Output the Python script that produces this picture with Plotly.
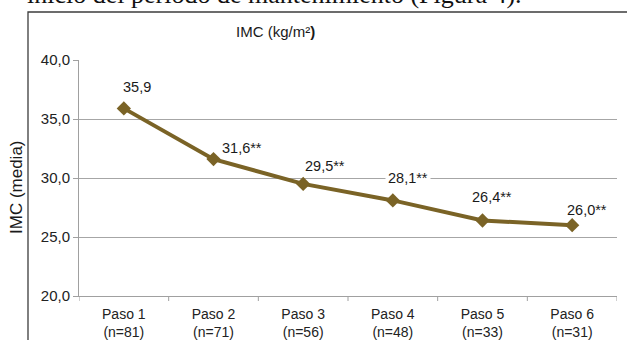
import plotly.graph_objects as go

categories = ["Paso 1<br>(n=81)", "Paso 2<br>(n=71)", "Paso 3<br>(n=56)",
              "Paso 4<br>(n=48)", "Paso 5<br>(n=33)", "Paso 6<br>(n=31)"]
imc_values = [35.9, 31.6, 29.5, 28.1, 26.4, 26.0]
value_labels = ["35,9", "31,6**", "29,5**", "28,1**", "26,4**", "26,0**"]
y_ticks = [20, 25, 30, 35, 40]
y_tick_labels = ["20,0", "25,0", "30,0", "35,0", "40,0"]

W, H = 627, 340
L, R, T, B = 79, 10, 60, 44
pw, ph = W - L - R, H - T - B

def px(x):
    return (x - L) / pw

def py(y):
    return (H - B - y) / ph

LINE = "#7a6326"
FONT = "Liberation Sans, Arial, sans-serif"

fig = go.Figure()
fig.add_trace(go.Scatter(
    x=list(range(len(categories))), y=imc_values, mode="lines+markers",
    line=dict(color=LINE, width=4),
    marker=dict(symbol="diamond", size=11, color=LINE),
    hoverinfo="skip", showlegend=False))

# data label offsets in pixels (dx right, dy down) relative to points
offsets = [(13, -21), (28, -11), (22, -18), (15, -22), (9, -23), (15, -15)]
for i, (lab, (dx, dy)) in enumerate(zip(value_labels, offsets)):
    fig.add_annotation(x=i, y=imc_values[i], text=lab, showarrow=False,
                       xshift=dx, yshift=-dy, xanchor="center", yanchor="middle",
                       font=dict(family=FONT, size=14.5, color="#1a1a1a"),
                       bgcolor="white" if i == 3 else "rgba(0,0,0,0)",
                       borderpad=2)

fig.add_annotation(xref="paper", yref="paper", x=px(275), y=py(31),
                   xanchor="center", yanchor="middle",
                   text="IMC (kg/m²<b>)</b>", showarrow=False,
                   font=dict(family=FONT, size=15, color="#1a1a1a"))
fig.add_annotation(xref="paper", yref="paper", x=px(16), y=py(187),
                   xanchor="center", yanchor="middle",
                   text="IMC (media)", textangle=-90, showarrow=False,
                   font=dict(family=FONT, size=17, color="#1a1a1a"))
fig.add_annotation(xref="paper", yref="paper", x=px(26), y=py(10),
                   xanchor="left", yanchor="bottom",
                   text="inicio del periodo de mantenimiento (Figura 4).",
                   showarrow=False, borderpad=0,
                   font=dict(family="Liberation Serif, Times New Roman, serif", size=26, color="#111"))

# outer border box
fig.add_shape(type="rect", xref="paper", yref="paper",
              x0=px(28), x1=px(640), y0=py(360), y1=py(12),
              line=dict(color="#3c3c3c", width=1.3), layer="below")

# category separator ticks on x axis
for k in range(len(categories) + 1):
    fig.add_shape(type="line", xref="x", yref="paper", x0=k - 0.5, x1=k - 0.5,
                  y0=0, y1=-5 / ph, line=dict(color="#a0a0a0", width=1))

fig.update_layout(
    width=W, height=H, margin=dict(l=L, r=R, t=T, b=B),
    paper_bgcolor="white", plot_bgcolor="white",
    xaxis=dict(range=[-0.5, 5.5], tickvals=list(range(len(categories))),
               ticktext=categories, showgrid=False, zeroline=False,
               showline=True, linecolor="#a0a0a0", linewidth=1,
               ticks="", ticklabelstandoff=5, automargin=False,
               tickfont=dict(family=FONT, size=14, color="#222")),
    yaxis=dict(range=[20, 40], tickvals=y_ticks, ticktext=y_tick_labels,
               showgrid=True, gridcolor="#a6a6a6", gridwidth=1,
               zeroline=False, showline=True, linecolor="#a0a0a0",
               ticks="outside", ticklen=5, tickcolor="#a0a0a0", automargin=False,
               tickfont=dict(family=FONT, size=15, color="#222")),
)

fig.write_html("out.html", config={"displayModeBar": False},
               post_script="document.body.style.margin='0';document.body.style.overflow='hidden';")
